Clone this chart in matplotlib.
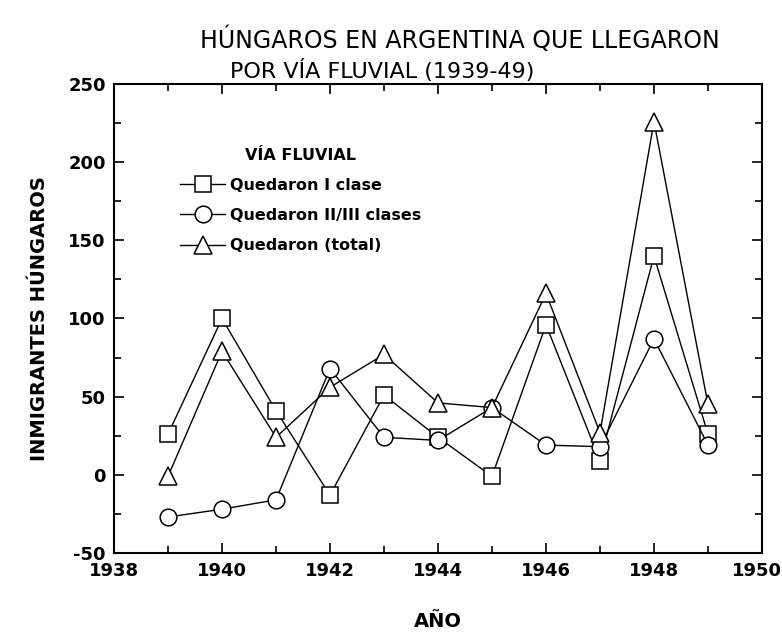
import matplotlib
matplotlib.use("Agg")
import matplotlib.pyplot as plt
from matplotlib.ticker import MultipleLocator
from matplotlib.transforms import ScaledTranslation, blended_transform_factory

years = [1939, 1940, 1941, 1942, 1943, 1944, 1945, 1946, 1947, 1948, 1949]
primera = [26, 100, 41, -13, 51, 24, -1, 96, 9, 140, 26]
segunda_tercera = [-27, -22, -16, 68, 24, 22, 43, 19, 18, 87, 19]
total = [-1, 79, 24, 56, 77, 46, 43, 116, 27, 226, 45]

x_ticks = [1938, 1940, 1942, 1944, 1946, 1948, 1950]
labels = ["Quedaron I clase", "Quedaron II/III clases", "Quedaron (total)"]
legend_title = "VÍA FLUVIAL"
title1 = "HÚNGAROS EN ARGENTINA QUE LLEGARON"
title2 = "POR VÍA FLUVIAL (1939-49)"
xlabel = "AÑO"
ylabel = "INMIGRANTES HÚNGAROS"

plt.rcParams['font.family'] = ['DejaVu Sans']
plt.rcParams['axes.unicode_minus'] = False
fig = plt.figure(figsize=(7.82, 6.34), dpi=100)
ax = fig.add_axes([0.1458, 0.1278, 0.8286, 0.7397])

common = dict(color='black', lw=1.0, markerfacecolor='white', markeredgecolor='black',
              markeredgewidth=1.1)
ax.plot(years, primera, marker='s', markersize=11, label=labels[0], **common)
ax.plot(years, segunda_tercera, marker='o', markersize=12, label=labels[1], **common)
ax.plot(years, total, marker='^', markersize=13, label=labels[2], **common)

ax.set_xlim(1938, 1950)
ax.set_ylim(-50, 250)
ax.set_xticks(x_ticks)
ax.xaxis.set_minor_locator(MultipleLocator(1))
ax.yaxis.set_major_locator(MultipleLocator(50))
ax.yaxis.set_minor_locator(MultipleLocator(25))
ax.tick_params(which='both', direction='in', top=True, right=True, width=1.2)
ax.tick_params(which='major', length=7)
ax.tick_params(which='minor', length=5)
ax.tick_params(axis='y', which='major', labelsize=13, pad=6)
ax.tick_params(axis='x', labelbottom=False)
for lab in ax.get_yticklabels():
    lab.set_fontweight('bold')
for s in ax.spines.values():
    s.set_linewidth(1.5)

# x tick labels drawn as texts so the last one stays inside the figure
btrans = blended_transform_factory(ax.transData, ax.transAxes)
for i, xv in enumerate(x_ticks):
    tr = btrans
    if i == len(x_ticks) - 1:
        tr = btrans + ScaledTranslation(-5 / 100, 0, fig.dpi_scale_trans)
    ax.text(xv, -0.02, str(xv), transform=tr, ha='center', va='top',
            fontsize=13, fontweight='bold', clip_on=False)

ax.set_xlabel(xlabel, fontsize=14, fontweight='bold')
ax.xaxis.set_label_coords(0.5, -0.125)
ax.set_ylabel(ylabel, fontsize=14, fontweight='bold', labelpad=14)

leg = ax.legend(loc='upper left', bbox_to_anchor=(0.08, 0.895), frameon=False,
                title=legend_title, handlelength=2.8,
                handletextpad=0.3, labelspacing=0.95,
                prop={'weight': 'bold', 'size': 11.5})
leg.get_title().set_fontweight('bold')
leg.get_title().set_fontsize(11.5)

fig.text(0.588, 0.938, title1, fontsize=17, ha='center', va='center')
fig.text(0.294, 0.889, title2, fontsize=16, ha='left', va='center')

fig.savefig("out.png", dpi=100)
